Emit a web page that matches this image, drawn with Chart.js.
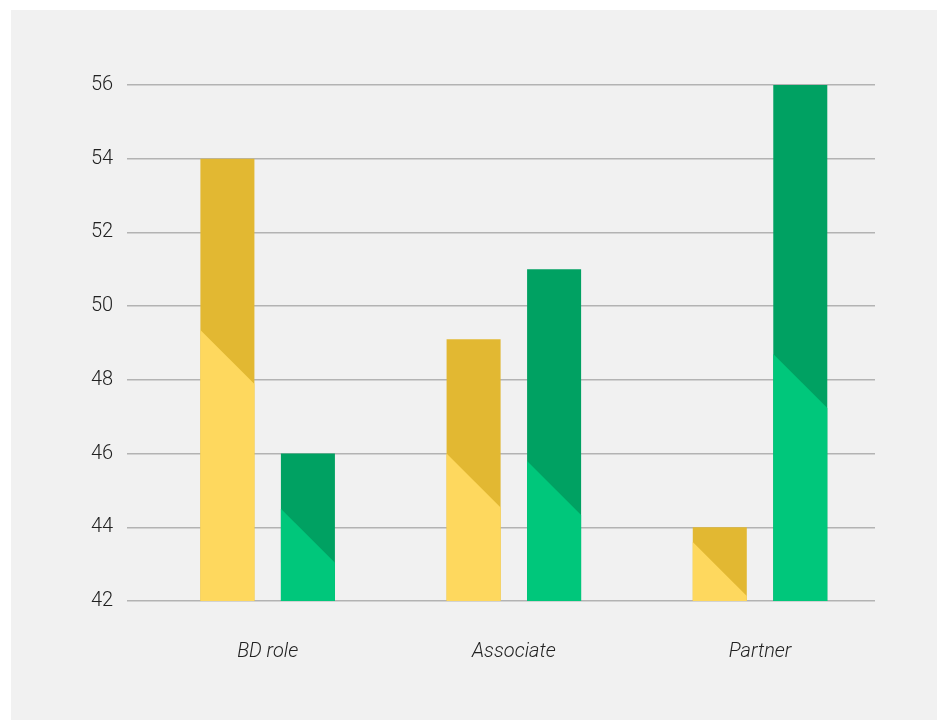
<!DOCTYPE html>
<html>
<head>
<meta charset="utf-8">
<script src="https://cdn.jsdelivr.net/npm/chart.js@4/dist/chart.umd.min.js"></script>
<style>
  html, body { margin: 0; padding: 0; background: #ffffff; }
  #wrap { width: 940px; height: 720px; }
</style>
</head>
<body>
<div id="wrap"><canvas id="chart" width="940" height="720"></canvas></div>
<script>
var categories = ["BD role", "Associate", "Partner"];
var yellowValues = [54, 49.1, 44];
var greenValues = [46, 51, 56];
// value where the diagonal starts on the left edge of each bar
var yellowSplit = [49.35, 46.0, 43.6];
var greenSplit = [44.5, 45.8, 48.7];
var yTicks = [42, 44, 46, 48, 50, 52, 54, 56];

var yellowLight = "#fed85e", yellowDark = "#e2b832";
var greenLight = "#00c77b", greenDark = "#00a162";

var panel = {
    id: "panel",
    beforeDraw: function (chart) {
        var ctx = chart.ctx;
        ctx.save();
        ctx.fillStyle = "#f1f1f1";
        ctx.fillRect(11, 10, 926, 710);
        ctx.restore();
    }
};

var diagonal = {
    id: "diagonal",
    afterDatasetsDraw: function (chart) {
        var ctx = chart.ctx;
        var yScale = chart.scales.y;
        var area = chart.chartArea;
        var splits = [yellowSplit, greenSplit];
        var lights = [yellowLight, greenLight];
        ctx.save();
        ctx.beginPath();
        ctx.rect(area.left, area.top, area.right - area.left, area.bottom - area.top);
        ctx.clip();
        chart.data.datasets.forEach(function (ds, d) {
            var meta = chart.getDatasetMeta(d);
            meta.data.forEach(function (bar, i) {
                var p = bar.getProps(["x", "y", "base", "width"], true);
                var left = p.x - p.width / 2, right = p.x + p.width / 2;
                var yl = yScale.getPixelForValue(splits[d][i]);
                ctx.fillStyle = lights[d];
                ctx.beginPath();
                ctx.moveTo(left, yl);
                ctx.lineTo(right, yl + p.width);
                ctx.lineTo(right, p.base);
                ctx.lineTo(left, p.base);
                ctx.closePath();
                ctx.fill();
            });
        });
        ctx.restore();
    }
};

new Chart(document.getElementById("chart"), {
    type: "bar",
    data: {
        datasets: [{
            label: "Yellow",
            data: yellowValues.map(function (v, i) { return {x: i, y: v}; }),
            backgroundColor: yellowDark,
            borderWidth: 0
        }, {
            label: "Green",
            data: greenValues.map(function (v, i) { return {x: i, y: v}; }),
            backgroundColor: greenDark,
            borderWidth: 0
        }]
    },
    options: {
        responsive: false,
        animation: false,
        categoryPercentage: 0.654,
        barPercentage: 0.671,
        layout: {padding: {left: 77, right: 65, top: 85, bottom: 25}},
        plugins: {legend: {display: false}, tooltip: {enabled: false}},
        scales: {
            x: {
                type: "linear",
                min: -0.5706,
                max: 2.467,
                offset: false,
                grid: {display: false, offset: false},
                border: {display: false},
                afterBuildTicks: function (scale) {
                    scale.ticks = categories.map(function (c, i) { return {value: i}; });
                },
                ticks: {
                    padding: 31,
                    color: "#222222",
                    font: {family: "Roboto", size: 20, style: "italic", weight: 300},
                    callback: function (v) { return categories[v]; }
                }
            },
            y: {
                min: 42,
                max: 56,
                beginAtZero: false,
                afterBuildTicks: function (scale) {
                    scale.ticks = yTicks.map(function (v) { return {value: v}; });
                },
                grid: {color: "#b3b3b3", lineWidth: 1.5, drawTicks: false},
                border: {display: false},
                ticks: {
                    padding: 14,
                    color: "#222222",
                    font: {family: "Roboto", size: 20, weight: 300}
                }
            }
        }
    },
    plugins: [panel, diagonal]
});
</script>
</body>
</html>
